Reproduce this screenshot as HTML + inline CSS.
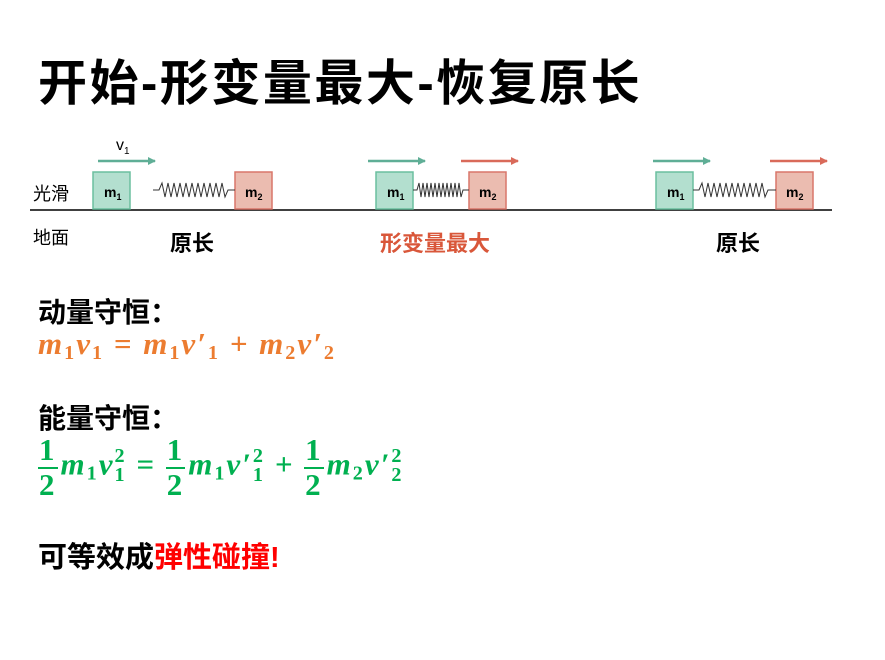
<!DOCTYPE html>
<html><head><meta charset="utf-8"><style>
body{margin:0;width:885px;height:660px;background:#fff;position:relative;overflow:hidden;font-family:"Liberation Sans","Noto Sans CJK SC",sans-serif}
.a{position:absolute;white-space:nowrap}
.t{font-weight:bold}
.m{font-family:"Liberation Serif",serif;font-weight:bold;font-style:italic;letter-spacing:2px}
.m sub,.m sup{font-style:normal;font-size:65%}
.m sub{vertical-align:-0.25em}
.fr{display:inline-block;vertical-align:middle;text-align:center;font-style:normal;line-height:1.05;margin-right:3px}
.fr span{display:block;padding:0 1px}
.fr span:first-child{border-bottom:2px solid #00b050}
.ss{display:inline-block;vertical-align:-0.3em;line-height:0.95;font-size:65%;font-style:normal;text-align:left}
.ss span{display:block}
</style></head><body>
<div class="a t" style="left:38px;top:44px;font-size:49px;letter-spacing:2.5px">开始-形变量最大-恢复原长</div>
<svg class="a" style="left:0;top:0" width="885" height="260">
<defs>
<marker id="g" markerWidth="8" markerHeight="8" refX="7" refY="4" orient="auto" markerUnits="userSpaceOnUse"><path d="M0,0L8,4L0,8z" fill="#5fae96"/></marker>
<marker id="r" markerWidth="8" markerHeight="8" refX="7" refY="4" orient="auto" markerUnits="userSpaceOnUse"><path d="M0,0L8,4L0,8z" fill="#d96a5a"/></marker>
</defs>
<line x1="30" y1="210" x2="832" y2="210" stroke="#000" stroke-width="1.5"/>
<g stroke-width="2.5" fill="none">
<line x1="98" y1="161" x2="155" y2="161" stroke="#5fae96" marker-end="url(#g)"/>
<line x1="368" y1="161" x2="425" y2="161" stroke="#5fae96" marker-end="url(#g)"/>
<line x1="461" y1="161" x2="518" y2="161" stroke="#d96a5a" marker-end="url(#r)"/>
<line x1="653" y1="161" x2="710" y2="161" stroke="#5fae96" marker-end="url(#g)"/>
<line x1="770" y1="161" x2="827" y2="161" stroke="#d96a5a" marker-end="url(#r)"/>
</g>
<g fill="#b3dfcf" stroke="#6bbf9f" stroke-width="1.5">
<rect x="93" y="172" width="37" height="37"/><rect x="376" y="172" width="37" height="37"/><rect x="656" y="172" width="37" height="37"/>
</g>
<g fill="#ebbcb0" stroke="#d9776a" stroke-width="1.5">
<rect x="235" y="172" width="37" height="37"/><rect x="469" y="172" width="37" height="37"/><rect x="776" y="172" width="37" height="37"/>
</g>
<g fill="none" stroke="#333" stroke-width="1">
<polyline points="153,190 159,190 162,183 165,197 168,183 171,197 174,183 177,197 180,183 183,197 186,183 189,197 192,183 195,197 198,183 201,197 204,183 207,197 210,183 213,197 216,183 219,197 222,183 225,197 228,190 235,190"/>
<polyline points="413,190 417,190 419,183 421,197 423,183 425,197 427,183 429,197 431,183 433,197 435,183 437,197 439,183 441,197 443,183 445,197 447,183 449,197 451,183 453,197 455,183 457,197 459,183 461,197 463,190 469,190"/>
<polyline points="693,190 699,190 702,183 705,197 708,183 711,197 714,183 717,197 720,183 723,197 726,183 729,197 732,183 735,197 738,183 741,197 744,183 747,197 750,183 753,197 756,183 759,197 762,183 765,197 768,190 776,190"/>
</g>
<g font-family="Liberation Sans,sans-serif" font-weight="bold" font-size="14">
<text x="104" y="197">m<tspan font-size="9" dy="3">1</tspan></text>
<text x="387" y="197">m<tspan font-size="9" dy="3">1</tspan></text>
<text x="667" y="197">m<tspan font-size="9" dy="3">1</tspan></text>
<text x="245" y="197">m<tspan font-size="9" dy="3">2</tspan></text>
<text x="479" y="197">m<tspan font-size="9" dy="3">2</tspan></text>
<text x="786" y="197">m<tspan font-size="9" dy="3">2</tspan></text>
</g>
<text x="116" y="150" font-family="Liberation Sans,sans-serif" font-size="16">v<tspan font-size="10" dy="4">1</tspan></text>
</svg>
<div class="a" style="left:33px;top:180px;font-size:18px">光滑</div>
<div class="a" style="left:33px;top:224px;font-size:18px">地面</div>
<div class="a t" style="left:170px;top:226px;font-size:22px">原长</div>
<div class="a t" style="left:380px;top:226px;font-size:22px;color:#d9573a">形变量最大</div>
<div class="a t" style="left:716px;top:226px;font-size:22px">原长</div>
<div class="a t" style="left:38px;top:291px;font-size:28px">动量守恒：</div>
<div class="a m" style="left:38px;top:326px;font-size:31px;color:#ec7c30">m<sub>1</sub>v<sub>1</sub> = m<sub>1</sub>v′<sub>1</sub> + m<sub>2</sub>v′<sub>2</sub></div>
<div class="a t" style="left:38px;top:397px;font-size:28px">能量守恒：</div>
<div class="a m" style="left:38px;top:434px;font-size:31px;color:#00b050"><span class="fr"><span>1</span><span>2</span></span>m<sub>1</sub>v<span class="ss"><span>2</span><span>1</span></span> = <span class="fr"><span>1</span><span>2</span></span>m<sub>1</sub>v′<span class="ss"><span>2</span><span>1</span></span> + <span class="fr"><span>1</span><span>2</span></span>m<sub>2</sub>v′<span class="ss"><span>2</span><span>2</span></span></div>
<div class="a" style="left:38px;top:534px;font-size:29px;font-weight:bold">可等效成<span style="color:#ff0000">弹性碰撞!</span></div>
</body></html>
